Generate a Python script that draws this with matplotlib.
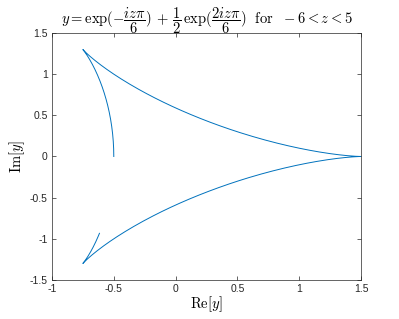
import numpy as np
import matplotlib.pyplot as plt

plt.rcParams['font.family'] = ['Liberation Sans', 'DejaVu Sans']
plt.rcParams['mathtext.fontset'] = 'cm'

# Parameter range from the title
z_start = -6.0
z_end = 5.0
n_pts = 500

z = np.linspace(z_start, z_end, n_pts)
y = np.exp(-1j * z * np.pi / 6) + 0.5 * np.exp(2j * z * np.pi / 6)

xticks = [-1, -0.5, 0, 0.5, 1, 1.5]
yticks = [-1.5, -1, -0.5, 0, 0.5, 1, 1.5]
ax_col = (0.15, 0.15, 0.15)

fig = plt.figure(figsize=(3.99, 3.19), dpi=100)
ax = fig.add_axes([0.1303, 0.1223, 0.7744, 0.7743])
ax.plot(y.real, y.imag, color='#0072BD', lw=0.7)
ax.set_xlim(-1, 1.5)
ax.set_ylim(-1.5, 1.5)
ax.set_xticks(xticks)
ax.set_xticklabels([f"{v:g}" for v in xticks])
ax.set_yticks(yticks)
ax.set_yticklabels([f"{v:g}" for v in yticks])
ax.tick_params(direction='in', length=3, width=0.5, colors=ax_col,
               labelsize=7.5, top=True, right=True, pad=3)
for s in ax.spines.values():
    s.set_linewidth(0.5)
    s.set_color(ax_col)
ax.set_xlabel(r'$\mathrm{Re}[y]$', fontsize=10.5, color='k', labelpad=0)
ax.set_ylabel(r'$\mathrm{Im}[y]$', fontsize=10.5, color='k', labelpad=2)
ax.set_title(r'$y=\exp(-\dfrac{iz\pi}{6})\,+\,\dfrac{1}{2}\,\exp(\dfrac{2iz\pi}{6})\ \ \mathrm{for}\ \ -6<z<5$',
             fontsize=10.5, pad=6)

fig.savefig('out.png', dpi=100)
